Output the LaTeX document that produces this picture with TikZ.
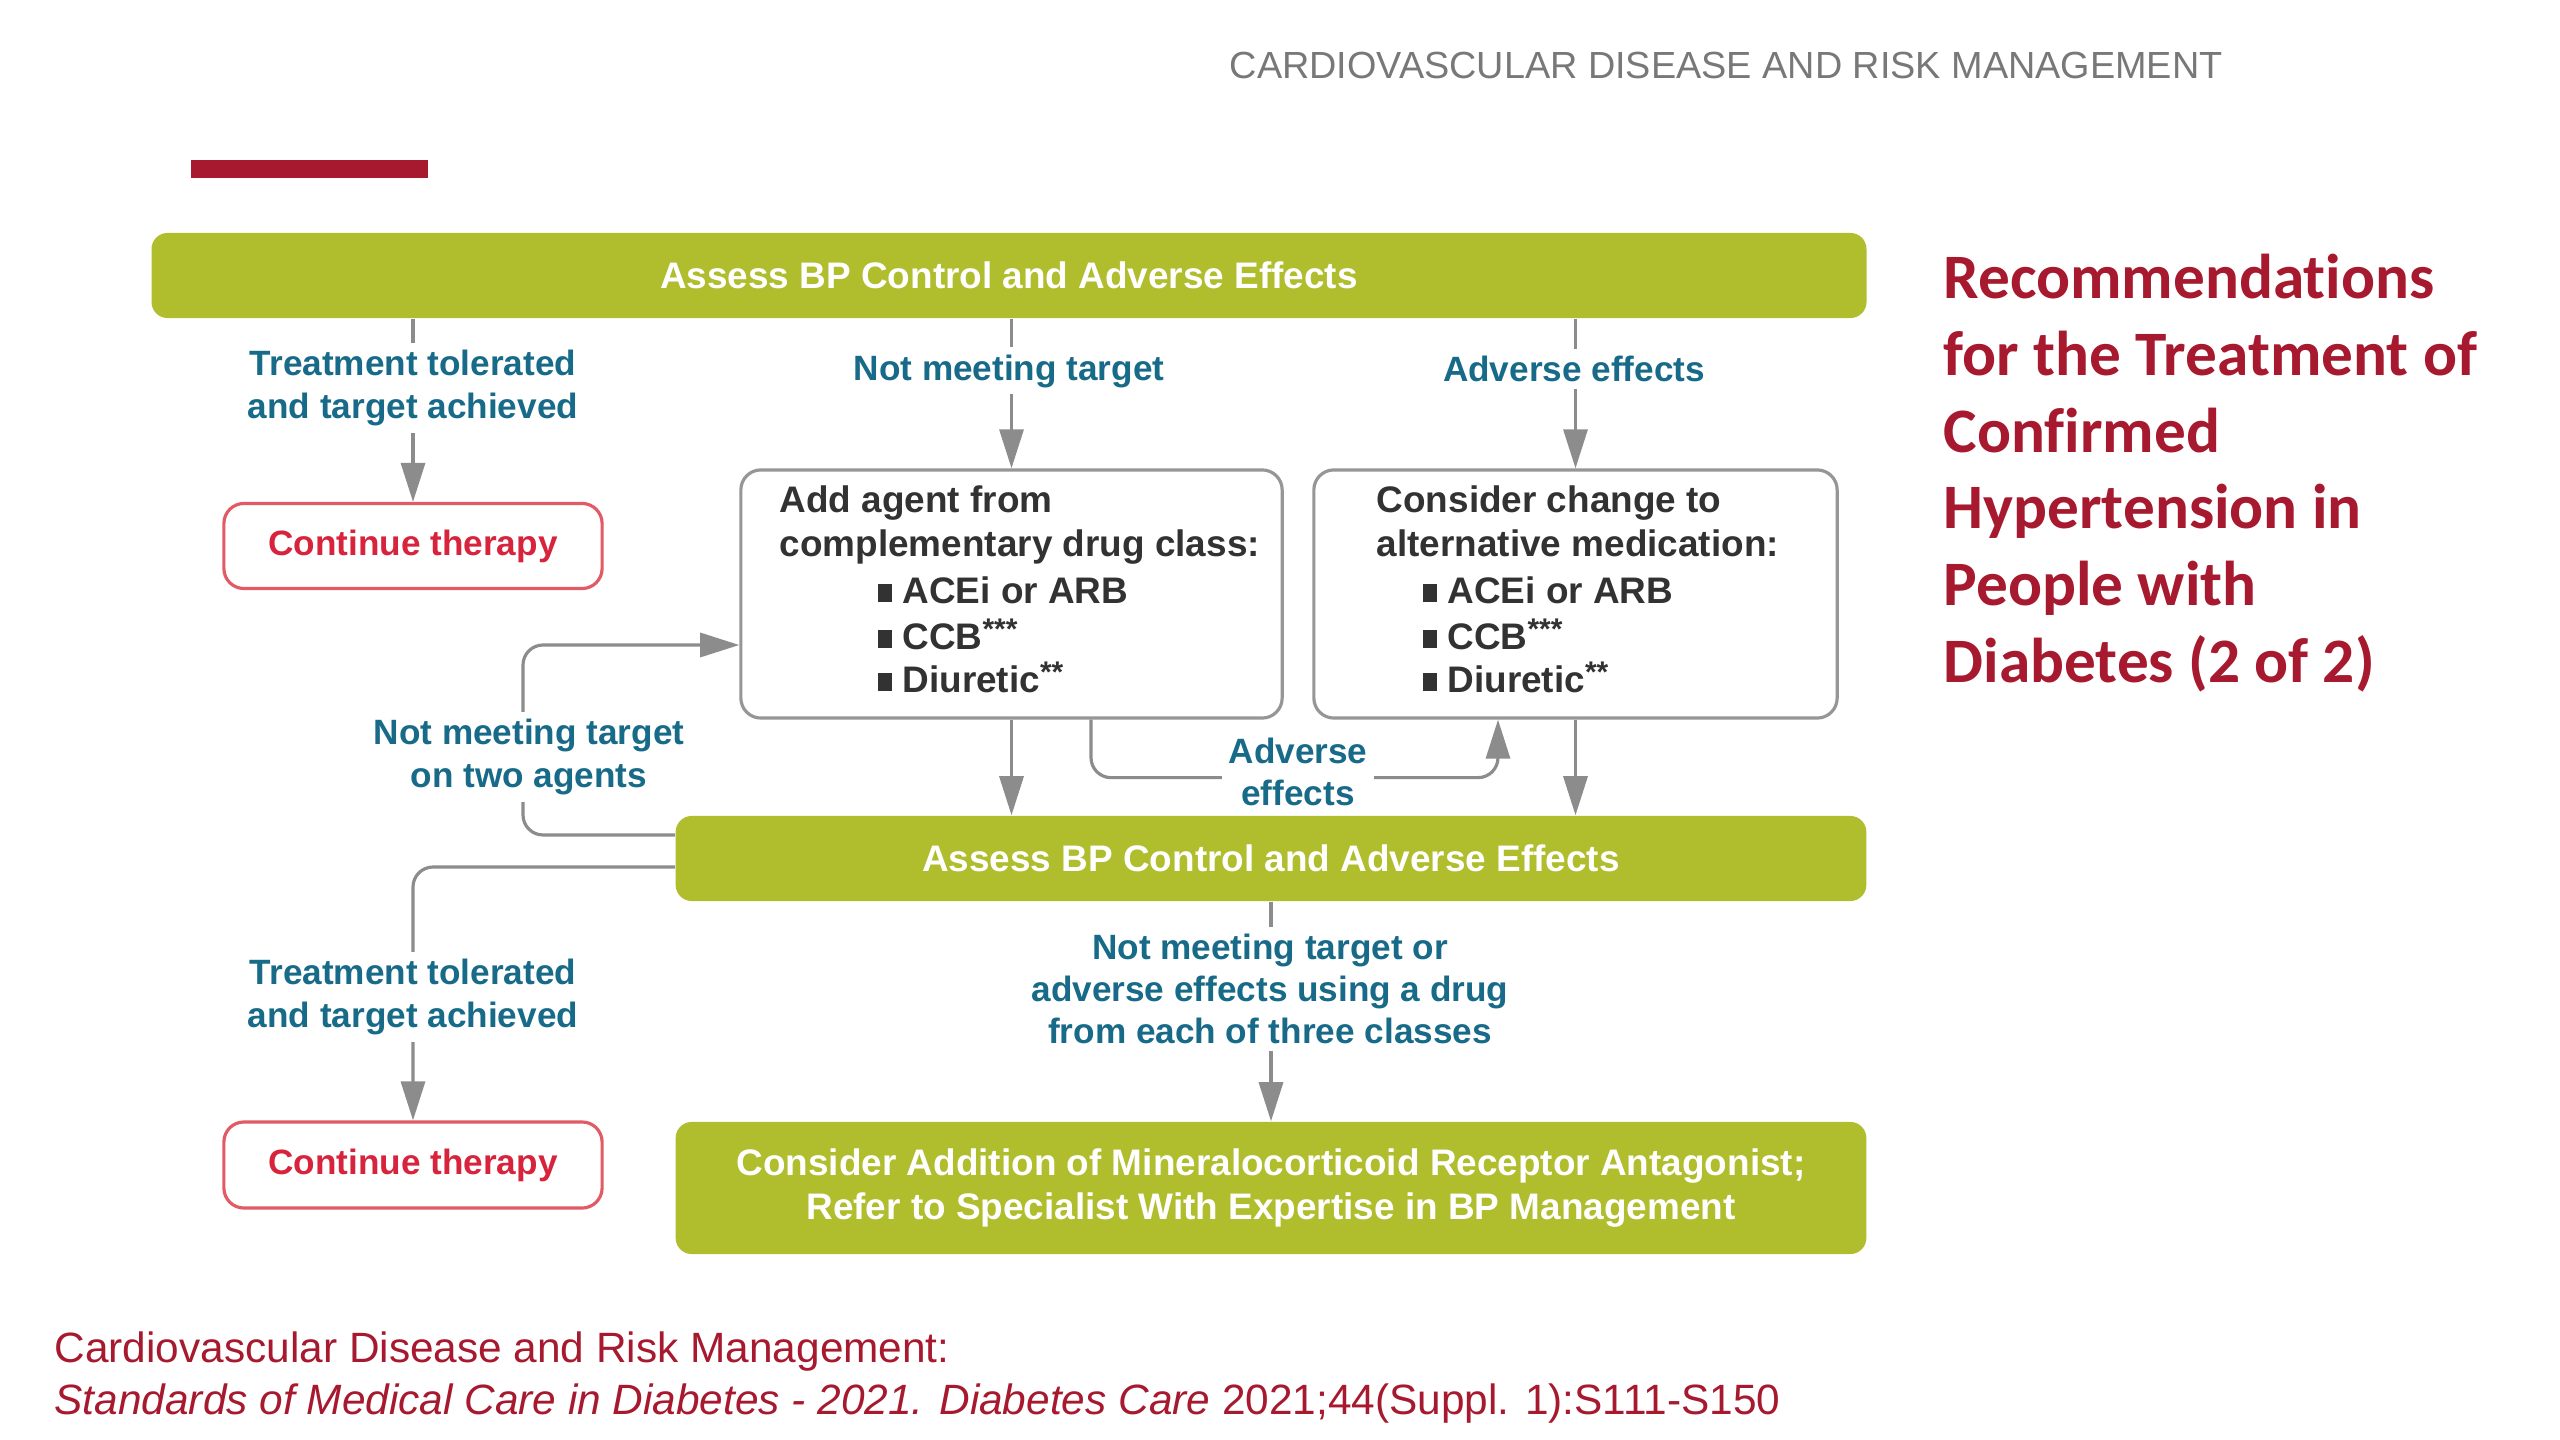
\documentclass[tikz,border=0pt]{standalone}
\usepackage{fontspec}
\setmainfont{Liberation Sans}
\newfontfamily\titlefont[Ligatures=NoCommon]{Carlito}
\usetikzlibrary{arrows.meta,calc}
\definecolor{barGreen}{RGB}{176,189,45}
\definecolor{lblBlue}{RGB}{24,106,137}
\definecolor{lineGray}{RGB}{140,140,140}
\definecolor{boxGray}{RGB}{150,150,150}
\definecolor{titleRed}{RGB}{166,25,46}
\definecolor{contRed}{RGB}{215,35,60}
\definecolor{contBorder}{RGB}{225,90,100}
\definecolor{hdrGray}{RGB}{120,120,120}
\definecolor{boxText}{RGB}{50,50,50}
\newcommand{\sqbul}{\rule[0.1ex]{0.75ex}{0.95ex}}
\newcommand{\astsup}[1]{\raisebox{0.55ex}{\fontsize{8.5}{9}\selectfont #1}}
\begin{document}
\begin{tikzpicture}[x=0.01cm,y=-0.01cm,
 greenbar/.style={fill=barGreen, rounded corners=0.16cm, inner sep=0pt, text=white, font=\fontsize{10.5}{12.5}\selectfont\bfseries, align=center},
 contbox/.style={draw=contBorder, line width=0.9pt, fill=white, rounded corners=0.2cm, minimum width=3.78cm, minimum height=0.85cm, inner sep=0pt, text=contRed, font=\fontsize{10}{12}\selectfont\bfseries},
 drugbox/.style={draw=boxGray, line width=0.9pt, rounded corners=0.2cm, minimum width=5.41cm, minimum height=2.48cm, inner sep=0pt},
 drugtxt/.style={anchor=base west, inner sep=0pt, text=boxText, font=\fontsize{10.5}{12.5}\selectfont\bfseries},
 lbl/.style={fill=white, inner sep=2pt, text=lblBlue, align=center, font=\fontsize{10}{12}\selectfont\bfseries},
 conn/.style={draw=lineGray, line width=0.9pt, -{Triangle[length=0.39cm,width=0.24cm]}, rounded corners=0.2cm},
 titletxt/.style={anchor=base west, inner sep=0pt, text=titleRed, font=\titlefont\fontsize{18}{21.8}\selectfont\bfseries},
 foottxt/.style={anchor=base west, inner sep=0pt, text=titleRed, font=\fontsize{12.05}{14}\selectfont},
]
\fill[white] (0,0) rectangle (2560,1440);
\useasboundingbox (0,0) rectangle (2560,1440);

% header
\node[anchor=base west, inner sep=0pt, text=hdrGray, font=\fontsize{10.75}{13}\selectfont] (hdr) at (1229,79) {CARDIOVASCULAR DISEASE AND RISK MANAGEMENT};
\fill[titleRed] (191,160) rectangle (428,178);

% boxes
\node[greenbar, minimum width=17.14cm, minimum height=0.85cm] (bar1) at (1009,275.5) {Assess BP Control and Adverse Effects};
\node[contbox] (cont1) at (413,546) {Continue therapy};
\node[drugbox] (box1) at (1011.5,594) {};
\node[drugbox, minimum width=5.23cm] (box2) at (1575.5,594) {};
\node[greenbar, minimum width=11.9cm, minimum height=0.85cm] (bar2) at (1271,858.5) {Assess BP Control and Adverse Effects};
\node[greenbar, minimum width=11.9cm, minimum height=1.32cm] (bar3) at (1271,1188) {Consider Addition of Mineralocorticoid Receptor Antagonist;\\Refer to Specialist With Expertise in BP Management};
\node[contbox, minimum height=0.86cm] (cont2) at (413,1165) {Continue therapy};

% drug box texts
\node[drugtxt] (a1) at (779,513) {Add agent from};
\node[drugtxt] (a2) at (779,557) {complementary drug class:};
\node[drugtxt] (a3) at (877,604) {\sqbul\ ACEi or ARB};
\node[drugtxt] (a4) at (877,650) {\sqbul\ CCB\astsup{***}};
\node[drugtxt] (a5) at (877,693) {\sqbul\ Diuretic\astsup{**}};
\node[drugtxt] (c1) at (1376,513) {Consider change to};
\node[drugtxt] (c2) at (1376,557) {alternative medication:};
\node[drugtxt] (c3) at (1422,604) {\sqbul\ ACEi or ARB};
\node[drugtxt] (c4) at (1422,650) {\sqbul\ CCB\astsup{***}};
\node[drugtxt] (c5) at (1422,693) {\sqbul\ Diuretic\astsup{**}};

% connectors
\draw[conn] (bar1.south -| cont1.north) -- (cont1.north);
\draw[conn] (bar1.south -| box1.north) -- (box1.north);
\draw[conn] (bar1.south -| box2.north) -- (box2.north);
\draw[conn] (box1.south) -- (box1.south |- bar2.north);
\draw[conn] (box2.south) -- (box2.south |- bar2.north);
\draw[conn] ($(box1.south)+(79.5,0)$) |- ($(box2.south)+(-77.5,58)$) -- ($(box2.south)+(-77.5,0)$);
\coordinate (loopc) at (523,645);
\draw[conn] ([yshift=0.235cm]bar2.west) -| (loopc) -- (loopc -| box1.west);
\draw[conn] ([yshift=-0.085cm]bar2.west) -| (cont2.north);
\draw[conn] (bar2.south) -- (bar3.north);

% labels
\node[lbl] (l1) at (413,388) {Treatment tolerated\\and target achieved};
\node[lbl] (l2) at (1009,371) {Not meeting target};
\node[lbl] (l3) at (1574,369) {Adverse effects};
\node[lbl] (l4) at (1298,772) {Adverse\\effects};
\node[lbl] (l5) at (529,757) {Not meeting target\\on two agents};
\node[lbl] (l6) at (413,997) {Treatment tolerated\\and target achieved};
\node[lbl] (l7) at (1270,989) {Not meeting target or\\adverse effects using a drug\\from each of three classes};

% title
\node[titletxt] (t1) at (1943,299) {Recommendations};
\node[titletxt] (t2) at (1943,376) {for the Treatment of};
\node[titletxt] (t3) at (1943,453) {Confirmed};
\node[titletxt] (t4) at (1943,529) {Hypertension in};
\node[titletxt] (t5) at (1943,606) {People with};
\node[titletxt] (t6) at (1943,683) {Diabetes (2 of 2)};

% footer
\node[foottxt] (f1) at (54,1362) {Cardiovascular Disease and Risk Management:};
\node[foottxt] (f2) at (54,1414) {\textit{Standards of Medical Care in Diabetes - 2021. Diabetes Care} 2021;44(Suppl. 1):S111-S150};
\end{tikzpicture}
\end{document}
